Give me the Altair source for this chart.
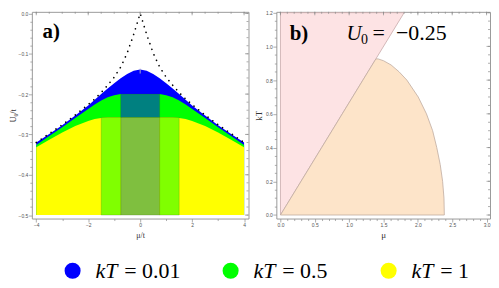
import json
import altair as alt
import pandas as pd

# ---------------- panel a) data ----------------
mu_a = [-4, -3.5, -3, -2.5, -2, -1.75, -1.5, -1.25, -1, -0.75, -0.5, -0.25,
        0, 0.25, 0.5, 0.75, 1, 1.25, 1.5, 1.75, 2, 2.5, 3, 3.5, 4]
u0_kt0 = [-0.320, -0.298, -0.276, -0.252, -0.226, -0.212, -0.196, -0.178, -0.158, -0.133, -0.098, -0.052,
          0.0, -0.052, -0.098, -0.133, -0.158, -0.178, -0.196, -0.212, -0.226, -0.252, -0.276, -0.298, -0.320]
u0_kt001 = [-0.320, -0.299, -0.277, -0.253, -0.228, -0.214, -0.200, -0.186, -0.173, -0.161, -0.150, -0.142,
            -0.139, -0.142, -0.150, -0.161, -0.173, -0.186, -0.200, -0.214, -0.228, -0.253, -0.277, -0.299, -0.320]
u0_kt05 = [-0.326, -0.304, -0.282, -0.259, -0.237, -0.226, -0.216, -0.208, -0.203, -0.200, -0.200, -0.200,
           -0.200, -0.200, -0.200, -0.200, -0.203, -0.208, -0.216, -0.226, -0.237, -0.259, -0.282, -0.304, -0.326]
u0_kt1 = [-0.332, -0.313, -0.295, -0.279, -0.267, -0.262, -0.259, -0.258, -0.258, -0.258, -0.258, -0.258,
          -0.258, -0.258, -0.258, -0.258, -0.258, -0.258, -0.259, -0.262, -0.267, -0.279, -0.295, -0.313, -0.332]
u0_floor = -0.5

# overlap rectangles (mu range, U0 range)
rect_x1 = [-0.75, -0.75, -1.5, 0.75]
rect_x2 = [0.75, 0.75, -0.75, 1.5]
rect_y1 = [-0.258, -0.5, -0.5, -0.5]
rect_y2 = [-0.2, -0.258, -0.258, -0.258]
rect_fill = ["#008080", "#7fbf3f", "#80ff00", "#80ff00"]

# ---------------- panel b) data ----------------
pink_kt = [0.0, 1.2]
pink_mu_left = [0.0, 0.0]
pink_mu_right = [0.0, 1.8]

dome_kt = [0.0, 0.1, 0.2, 0.3, 0.4, 0.5, 0.6, 0.7, 0.8, 0.85, 0.89, 0.915, 0.926]
dome_mu_left = [0.0, 0.15, 0.3, 0.45, 0.6, 0.75, 0.9, 1.05, 1.2, 1.275, 1.335, 1.373, 1.39]
dome_mu_right = [2.385, 2.38, 2.36, 2.325, 2.275, 2.215, 2.125, 2.005, 1.84, 1.725, 1.61, 1.50, 1.42]

# ---------------- legend ----------------
leg_idx = [0, 1, 2]
leg_value = ["= 0.01", "= 0.5", "= 1"]
leg_color = ["#0000ff", "#00ff00", "#ffff00"]

SERIF = "Liberation Serif, DejaVu Serif, serif"
SANS = "Liberation Sans, DejaVu Sans, sans-serif"
TICK = "#8a8a8a"

# tick positions (major + minor)
a_x_vals = [round(-4 + 0.5 * i, 2) for i in range(17)]
a_x_maj = [-4.0, -2.0, 0.0, 2.0, 4.0]
a_y_vals = [round(-0.5 + 0.02 * i, 2) for i in range(26)]
a_y_maj = [-0.5, -0.4, -0.3, -0.2, -0.1, 0.0]
b_x_vals = [round(0.1 * i, 1) for i in range(31)]
b_x_maj = [0.0, 0.5, 1.0, 1.5, 2.0, 2.5, 3.0]
b_y_vals = [round(0.05 * i, 2) for i in range(25)]
b_y_maj = [0.0, 0.2, 0.4, 0.6, 0.8, 1.0, 1.2]


def test_expr(majors):
    return "indexof(" + json.dumps(majors) + ", datum.value) >= 0"


def axis(vals, majors, fmt, title, title_size, title_pad, orient):
    t = test_expr(majors)
    return alt.Axis(
        values=vals, format=fmt, labelExpr=t + " ? datum.label : ''",
        tickSize={"condition": {"test": t, "value": 3.5}, "value": 2},
        tickColor=TICK, tickWidth=0.7, domain=False, grid=False,
        labelFont=SANS, labelFontSize=5, labelColor="#555555", labelPadding=0.5,
        labelFlush=False, labelOverlap=False,
        title=title, titleFont=SERIF, titleFontSize=title_size, titleFontWeight="normal",
        titleColor="#333333", titlePadding=title_pad, orient=orient,
    )


# ---------------- panel a) ----------------
WA, HA = 218, 208
sx_a = alt.Scale(domain=[-4.17, 4.17], nice=False, zero=False)
sy_a = alt.Scale(domain=[-0.5086, 0.004], nice=False, zero=False)
ax_a = axis(a_x_vals, a_x_maj, "d", "μ/t", 8, 4, "bottom")
ay_a = axis(a_y_vals, a_y_maj, ".1f", "U₀/t", 8, 1, "left")


def XA(f):
    return alt.X(f, type="quantitative", scale=sx_a, axis=ax_a)


def YA(f):
    return alt.Y(f, type="quantitative", scale=sy_a, axis=ay_a)


df_a = pd.DataFrame({"mu": mu_a, "kt0": u0_kt0, "kt001": u0_kt001,
                     "kt05": u0_kt05, "kt1": u0_kt1, "floor": u0_floor})
df_rect = pd.DataFrame({"x1": rect_x1, "x2": rect_x2, "y1": rect_y1, "y2": rect_y2, "fill": rect_fill})

base_a = alt.Chart(df_a)
area_blue = base_a.mark_area(color="#0000ff").encode(x=XA("mu"), y=YA("kt001"), y2="floor")
area_green = base_a.mark_area(color="#00ff00").encode(x=XA("mu"), y=YA("kt05"), y2="floor")
area_yellow = base_a.mark_area(color="#ffff00").encode(x=XA("mu"), y=YA("kt1"), y2="floor")
rects = alt.Chart(df_rect).mark_rect(strokeWidth=0.6, strokeOpacity=0.35, stroke="#335500").encode(
    x=XA("x1"), x2="x2", y=YA("y1"), y2="y2", color=alt.Color("fill:N", scale=None))
dotted = base_a.mark_line(color="black", strokeWidth=1.7, strokeDash=[0.01, 6.0], strokeCap="round").encode(
    x=XA("mu"), y=YA("kt0"))
peak_mark = alt.Chart(pd.DataFrame({"mu": [0.0], "a": [-0.137], "b": [-0.149]})).mark_rule(
    color="#a0a0c8", strokeWidth=1).encode(x=XA("mu"), y=YA("a"), y2="b")

ticks_a_top_maj = alt.Chart(pd.DataFrame({"v": a_x_maj})).mark_rule(color=TICK, strokeWidth=0.7).encode(
    x=XA("v"), y=alt.value(0), y2=alt.value(3.5))
ticks_a_top_min = alt.Chart(pd.DataFrame({"v": a_x_vals})).mark_rule(color=TICK, strokeWidth=0.7).encode(
    x=XA("v"), y=alt.value(0), y2=alt.value(2))
ticks_a_r_maj = alt.Chart(pd.DataFrame({"v": a_y_maj})).mark_rule(color=TICK, strokeWidth=0.7).encode(
    y=YA("v"), x=alt.value(WA), x2=alt.value(WA - 3.5))
ticks_a_r_min = alt.Chart(pd.DataFrame({"v": a_y_vals})).mark_rule(color=TICK, strokeWidth=0.7).encode(
    y=YA("v"), x=alt.value(WA), x2=alt.value(WA - 2))

label_a = alt.Chart(pd.DataFrame({"t": ["a)"], "x": [-3.76], "y": [-0.062]})).mark_text(
    font=SERIF, fontSize=21, fontWeight="bold", align="left", baseline="alphabetic", color="black").encode(
    x=XA("x"), y=YA("y"), text="t:N")

panel_a = alt.layer(area_blue, area_green, area_yellow, rects, dotted, peak_mark,
                    ticks_a_top_min, ticks_a_top_maj, ticks_a_r_min, ticks_a_r_maj, label_a).properties(
    width=WA, height=HA)

# ---------------- panel b) ----------------
WB, HB = 215, 208
sx_b = alt.Scale(domain=[-0.06, 3.05], nice=False, zero=False)
sy_b = alt.Scale(domain=[-0.021, 1.205], nice=False, zero=False)
ax_b = axis(b_x_vals, b_x_maj, ".1f", "μ", 9, 3.5, "bottom")
ay_b = axis(b_y_vals, b_y_maj, ".1f", "kT", 9, 2, "left")


def XB(f):
    return alt.X(f, type="quantitative", scale=sx_b, axis=ax_b)


def YB(f):
    return alt.Y(f, type="quantitative", scale=sy_b, axis=ay_b)


df_pink = pd.DataFrame({"kt": pink_kt, "l": pink_mu_left, "r": pink_mu_right})
df_dome = pd.DataFrame({"kt": dome_kt, "l": dome_mu_left, "r": dome_mu_right})

pink = alt.Chart(df_pink).mark_area(orient="horizontal", color="#fde3e4", stroke="#c8aaaa",
                                    strokeWidth=0.8).encode(y=YB("kt"), x=XB("l"), x2="r")
peach = alt.Chart(df_dome).mark_area(orient="horizontal", color="#fde4c9", stroke="#c0aca0",
                                     strokeWidth=0.8).encode(y=YB("kt"), x=XB("l"), x2="r")

ticks_b_top_maj = alt.Chart(pd.DataFrame({"v": b_x_maj})).mark_rule(color=TICK, strokeWidth=0.7).encode(
    x=XB("v"), y=alt.value(0), y2=alt.value(3.5))
ticks_b_top_min = alt.Chart(pd.DataFrame({"v": b_x_vals})).mark_rule(color=TICK, strokeWidth=0.7).encode(
    x=XB("v"), y=alt.value(0), y2=alt.value(2))
ticks_b_r_maj = alt.Chart(pd.DataFrame({"v": b_y_maj})).mark_rule(color=TICK, strokeWidth=0.7).encode(
    y=YB("v"), x=alt.value(WB), x2=alt.value(WB - 3.5))
ticks_b_r_min = alt.Chart(pd.DataFrame({"v": b_y_vals})).mark_rule(color=TICK, strokeWidth=0.7).encode(
    y=YB("v"), x=alt.value(WB), x2=alt.value(WB - 2))

label_b = alt.Chart(pd.DataFrame({"t": ["b)"], "x": [0.135], "y": [1.037]})).mark_text(
    font=SERIF, fontSize=21, fontWeight="bold", align="left", baseline="alphabetic", color="black").encode(
    x=XB("x"), y=YB("y"), text="t:N")
u_main = alt.Chart(pd.DataFrame({"t": ["U"], "x": [0.963], "y": [1.037]})).mark_text(
    font=SERIF, fontSize=21, fontStyle="italic", align="left", baseline="alphabetic", color="black").encode(
    x=XB("x"), y=YB("y"), text="t:N")
u_sub = alt.Chart(pd.DataFrame({"t": ["0"], "x": [1.174], "y": [1.012]})).mark_text(
    font=SERIF, fontSize=14, align="left", baseline="alphabetic", color="black").encode(
    x=XB("x"), y=YB("y"), text="t:N")
u_eq = alt.Chart(pd.DataFrame({"t": ["="], "x": [1.341], "y": [1.037]})).mark_text(
    font=SERIF, fontSize=22, align="left", baseline="alphabetic", color="black").encode(
    x=XB("x"), y=YB("y"), text="t:N")
u_val = alt.Chart(pd.DataFrame({"t": ["−0.25"], "x": [2.418], "y": [1.037]})).mark_text(
    font=SERIF, fontSize=22, align="right", baseline="alphabetic", color="black").encode(
    x=XB("x"), y=YB("y"), text="t:N")

panel_b = alt.layer(pink, peach, ticks_b_top_min, ticks_b_top_maj, ticks_b_r_min, ticks_b_r_maj,
                    label_b, u_main, u_sub, u_eq, u_val).properties(width=WB, height=HB)

# ---------------- legend ----------------
df_leg = pd.DataFrame({"idx": leg_idx, "val": leg_value, "col": leg_color, "kt": ["kT"] * 3})
lx = alt.X("idx:Q", scale=alt.Scale(domain=[0, 2], range=[41, 359]), axis=None)
leg_base = alt.Chart(df_leg)
leg_dot = leg_base.mark_circle(size=260, opacity=1).encode(
    x=lx, y=alt.value(27.5), color=alt.Color("col:N", scale=None))
leg_kt = leg_base.mark_text(font=SERIF, fontSize=22, fontStyle="italic", align="left",
                            baseline="alphabetic", dx=23, color="black").encode(
    x=lx, y=alt.value(35), text="kt:N")
leg_val = leg_base.mark_text(font=SERIF, fontSize=22, align="left", baseline="alphabetic",
                             dx=52, color="black").encode(
    x=lx, y=alt.value(35), text="val:N")
legend = alt.layer(leg_dot, leg_kt, leg_val).properties(
    width=440, height=35, view=alt.ViewBackground(stroke="transparent"))

top = alt.hconcat(panel_a, panel_b, spacing=4)
chart = alt.vconcat(top, legend, spacing=2).properties(padding=0).configure_view(
    stroke="#9a9a9a", strokeWidth=1)

chart.save("out.html", embed_options={"renderer": "svg", "actions": False})
